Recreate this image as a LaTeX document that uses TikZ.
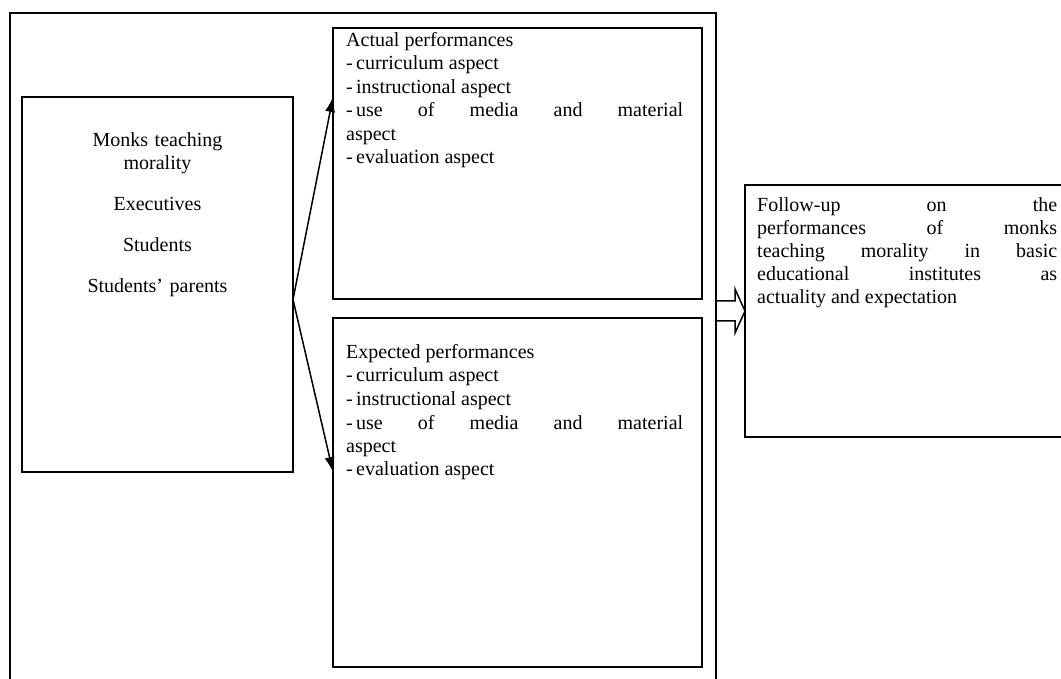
\documentclass[tikz,border=0pt]{standalone}
\usepackage{fontspec}
\setmainfont{Liberation Serif}
\usetikzlibrary{arrows.meta,calc}

\begin{document}
\sloppy
\begin{tikzpicture}[x=1pt,y=-1pt,
    frame/.style={draw,line width=2pt,inner sep=0pt,outer sep=0pt,anchor=north west},
    txt/.style={inner sep=0pt,anchor=base west,align=justify,font=\fontsize{20}{23.5}\selectfont},
    conn/.style={line width=1.5pt,-{Latex[length=15pt,width=10pt]}},
    hollow/.style={line width=1.5pt,line join=miter}]
      \useasboundingbox (0,0) rectangle (1061,679);
      \clip (0,0) rectangle (1061,679);
      % boxes
      \node[frame,minimum width=706pt,minimum height=700pt] (outer) at (10,13) {};
      \node[frame,minimum width=271pt,minimum height=375pt] (people) at (22,97) {};
      \node[frame,minimum width=369pt,minimum height=271pt] (actual) at (333,28) {};
      \node[frame,minimum width=369pt,minimum height=349pt] (expected) at (333,318) {};
      \node[frame,minimum width=340pt,minimum height=252pt] (follow) at (745,185) {};
      % texts
      \node[txt,anchor=base,align=center,text width=260pt] (peopletxt) at ($(people.north)+(0,49.5)$)
        {Monks teaching\\ morality\\[17.5pt] Executives\\[17.5pt] Students\\[17.5pt] Students' parents};
      \node[txt,text width=337pt] (actualtxt) at ($(actual.north west)+(13,18.5)$)
        {Actual performances\\ -\,curriculum aspect\\ -\,instructional aspect\\
         -\,use of media and material\linebreak aspect\\ -\,evaluation aspect};
      \node[txt,text width=337pt] (expectedtxt) at ($(expected.north west)+(13,40.5)$)
        {Expected performances\\ -\,curriculum aspect\\ -\,instructional aspect\\
         -\,use of media and material\linebreak aspect\\ -\,evaluation aspect};
      \node[txt,text width=300pt,font=\fontsize{20}{23}\selectfont] (followtxt) at ($(follow.north west)+(12,26.5)$)
        {Follow-up on the\linebreak performances of monks\linebreak teaching morality in basic\linebreak
         educational institutes as\linebreak actuality and expectation};
      % arrows
      \coordinate (fork) at ($(people.east)+(0,15)$);
      \draw[conn] (fork) -- (actual.west |- people.north);
      \draw[conn] (fork) -- (expected.west |- people.south);
      \draw[hollow] ($(follow.west)+(-29,-10)$) -- ++(19,0) -- ++(0,-12) -- (follow.west)
        -- ++(-10,22) -- ++(0,-12) -- ++(-19,0);
\end{tikzpicture}
\end{document}
